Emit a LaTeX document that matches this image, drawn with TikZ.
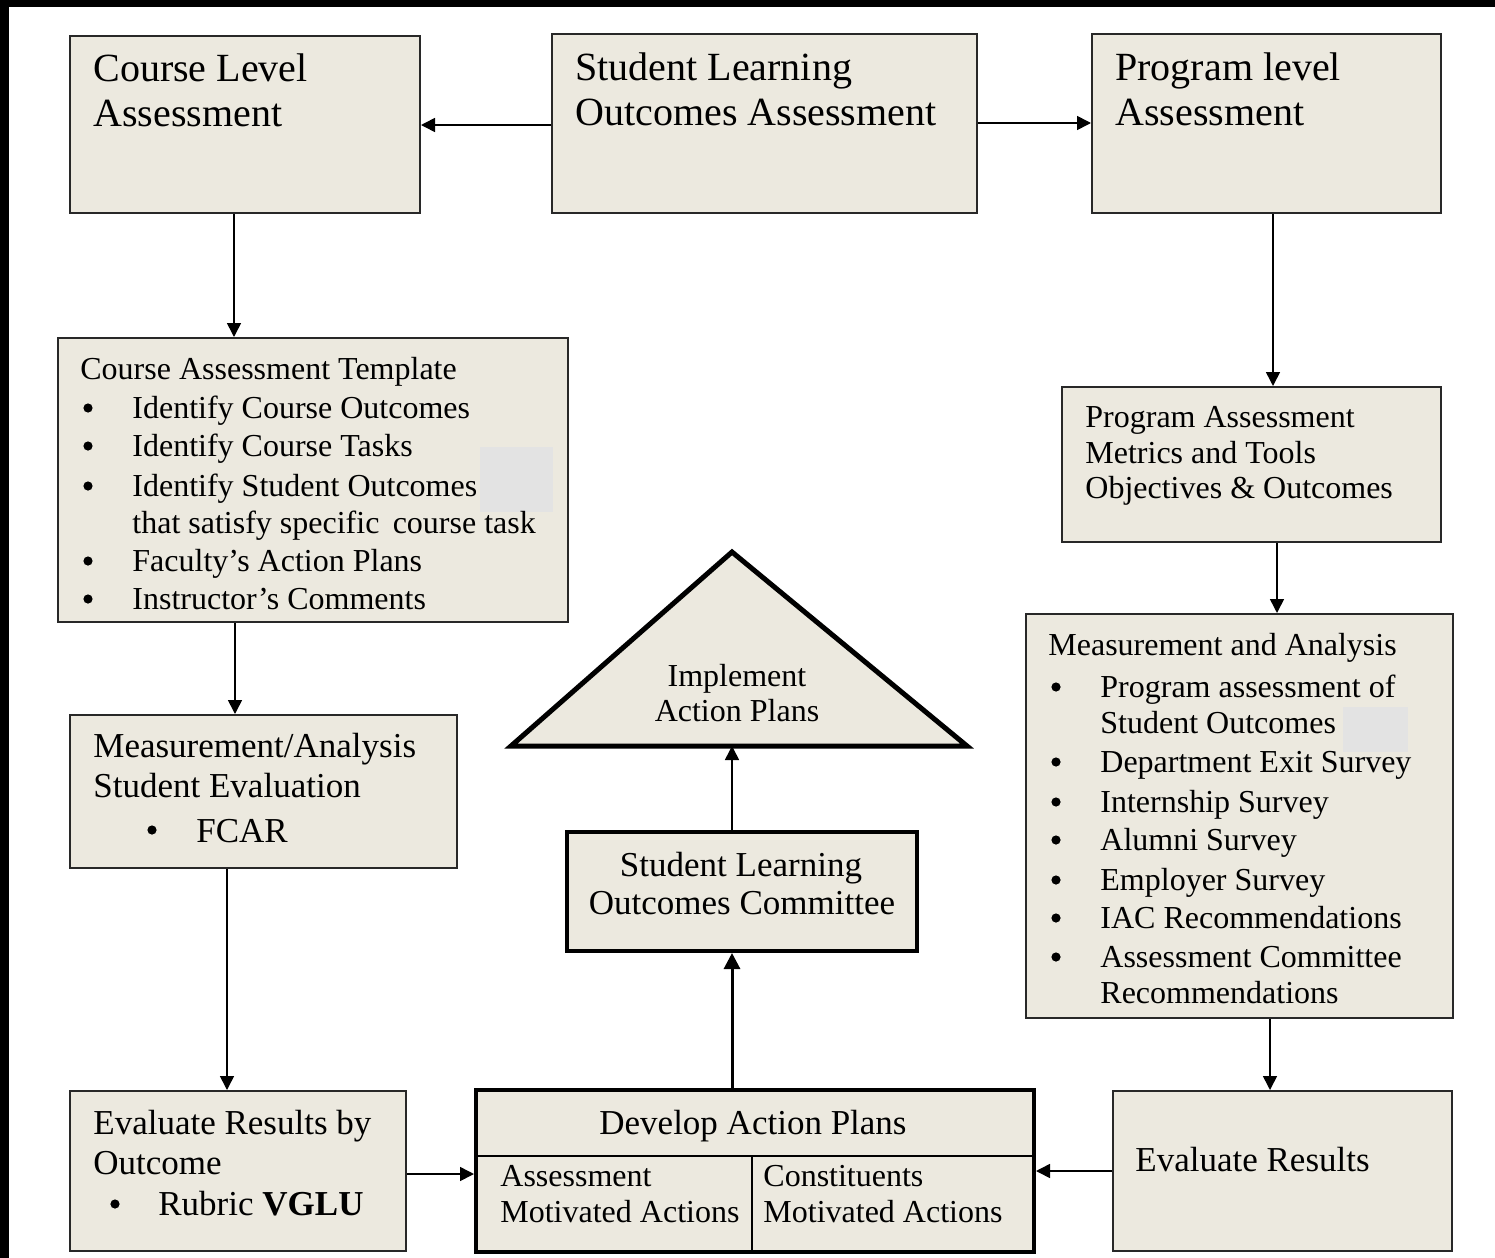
\documentclass[tikz,border=0pt]{standalone}
\usepackage{fontspec}
\setmainfont{Liberation Serif}
\usetikzlibrary{arrows.meta,fit}
\definecolor{boxfill}{RGB}{236,233,223}
\definecolor{patchgray}{RGB}{227,227,227}
\definecolor{edge}{RGB}{40,40,40}
\newcommand\bline[7]{%
  \node[dot] (#5b) at (#1,#3-#7) {};
  \node[txt,#6] (#5) at (#2,#3) {#4};}
\begin{document}
\begin{tikzpicture}[x=0.5pt,y=-0.5pt,
  box/.style={draw=edge, line width=1pt, fill=boxfill, inner sep=0pt},
  thickbox/.style={draw=black, line width=2pt, fill=boxfill, inner sep=0pt},
  arr/.style={-{Triangle[length=7pt,width=7pt]}, line width=0.8pt},
  thickarr/.style={-{Triangle[length=8pt,width=8pt]}, line width=1.5pt},
  txt/.style={inner sep=0pt, anchor=base west},
  ctxt/.style={inner sep=0pt, anchor=base},
  dot/.style={circle, fill=black, inner sep=0pt, minimum size=4.6pt},
  big/.style={font=\fontsize{20}{24}\selectfont},
  mid/.style={font=\fontsize{17.5}{21}\selectfont},
  sm/.style={font=\fontsize{16}{19}\selectfont}]
\useasboundingbox (0,0) rectangle (1495,1258);
\fill[white] (0,0) rectangle (1495,1258);
\fill[black] (0,0) rectangle (1495,7);
\fill[black] (0,0) rectangle (9,1258);

% ---- top row ----
\node[box, fit={(70,36)(420,213)}] (cla) {};
\node[txt,big] (claA) at (93,81) {Course Level};
\node[txt,big] (claB) at (93,126) {Assessment};

\node[box, fit={(552,34)(977,213)}] (slo) {};
\node[txt,big] (sloA) at (575,80) {Student Learning};
\node[txt,big] (sloB) at (575,125) {Outcomes Assessment};

\node[box, fit={(1092,34)(1441,213)}] (pla) {};
\node[txt,big] (plaA) at (1115,80) {Program level};
\node[txt,big] (plaB) at (1115,125) {Assessment};

% ---- course assessment template ----
\node[box, fit={(58,338)(568,622)}] (cat) {};
\fill[patchgray] (480,447) rectangle (553,512);
\node[txt,sm] (catT) at (80,379) {Course Assessment Template};
\bline{88}{132}{418}{Identify Course Outcomes}{catA}{sm}{10}
\bline{88}{132}{456}{Identify Course Tasks}{catB}{sm}{10}
\bline{88}{132}{496}{Identify Student Outcomes}{catC}{sm}{10}
\node[txt,sm] (catC2) at (132,533) {that satisfy specific\, course task};
\bline{88}{132}{571}{Faculty’s Action Plans}{catD}{sm}{10}
\bline{88}{132}{609}{Instructor’s Comments}{catE}{sm}{10}

% ---- measurement / analysis student evaluation ----
\node[box, fit={(70,715)(457,868)}] (mas) {};
\node[txt,mid] (masA) at (93,757) {Measurement/Analysis};
\node[txt,mid] (masB) at (93,797) {Student Evaluation};
\bline{152}{196}{842}{FCAR}{masC}{mid}{12}

% ---- evaluate results by outcome ----
\node[box, fit={(70,1091)(406,1251)}] (ero) {};
\node[txt,mid] (eroA) at (93,1134) {Evaluate Results by};
\node[txt,mid] (eroB) at (93,1174) {Outcome};
\bline{115}{158}{1215}{Rubric \textbf{VGLU}}{eroC}{mid}{11}

% ---- develop action plans ----
\node[thickbox, fit={(476,1090)(1034,1252)}] (dap) {};
\draw[line width=1pt] (dap.west |- 0,1156) -- (dap.east |- 0,1156);
\draw[line width=1pt] (752,1156) -- (dap.south -| 752,0);
\node[ctxt,mid] (dapT) at (753,1134) {Develop Action Plans};
\node[txt,sm] (dapA) at (500,1186) {Assessment};
\node[txt,sm] (dapB) at (500,1222) {Motivated Actions};
\node[txt,sm] (dapC) at (763,1186) {Constituents};
\node[txt,sm] (dapD) at (763,1222) {Motivated Actions};

% ---- SLO committee ----
\node[thickbox, fit={(567,832)(917,951)}] (sloc) {};
\node[ctxt,mid] (slocA) at (741,876) {Student Learning};
\node[ctxt,mid] (slocB) at (742,914) {Outcomes Committee};

% ---- triangle ----
\coordinate (triA) at (732,552);
\coordinate (triL) at (511,746);
\coordinate (triR) at (967,746);
\coordinate (triB) at (732,746);
\draw[line width=2.5pt, fill=boxfill, line join=miter] (triL) -- (triA) -- (triR) -- cycle;
\node[ctxt,sm] (triT1) at (737,686) {Implement};
\node[ctxt,sm] (triT2) at (737,721) {Action Plans};

% ---- program assessment metrics ----
\node[box, fit={(1062,387)(1441,542)}] (pam) {};
\node[txt,sm] (pamA) at (1085,427) {Program Assessment};
\node[txt,sm] (pamB) at (1085,463) {Metrics and Tools};
\node[txt,sm] (pamC) at (1085,498) {Objectives \& Outcomes};

% ---- measurement and analysis ----
\node[box, fit={(1026,614)(1453,1018)}] (ma) {};
\fill[patchgray] (1343,707) rectangle (1408,752);
\node[txt,sm] (maT) at (1048,655) {Measurement and Analysis};
\bline{1056}{1100}{697}{Program assessment of}{maA}{sm}{10}
\node[txt,sm] (maA2) at (1100,733) {Student Outcomes};
\bline{1056}{1100}{772}{Department Exit Survey}{maB}{sm}{10}
\bline{1056}{1100}{812}{Internship Survey}{maC}{sm}{10}
\bline{1056}{1100}{850}{Alumni Survey}{maD}{sm}{10}
\bline{1056}{1100}{890}{Employer Survey}{maE}{sm}{10}
\bline{1056}{1100}{928}{IAC Recommendations}{maF}{sm}{10}
\bline{1056}{1100}{967}{Assessment Committee}{maG}{sm}{10}
\node[txt,sm] (maG2) at (1100,1003) {Recommendations};

% ---- evaluate results ----
\node[box, fit={(1113,1091)(1452,1251)}] (er) {};
\node[txt,mid] (erA) at (1135,1171) {Evaluate Results};

% ---- connectors ----
\draw[arr] (slo.west |- 0,125) -- (cla.east |- 0,125);
\draw[arr] (slo.east |- 0,123) -- (pla.west |- 0,123);
\draw[arr] (cla.south -| 234,0) -- (cat.north -| 234,0);
\draw[arr] (cat.south -| 235,0) -- (mas.north -| 235,0);
\draw[arr] (mas.south -| 227,0) -- (ero.north -| 227,0);
\draw[arr] (ero.east |- 0,1174) -- (dap.west |- 0,1174);
\draw[thickarr] (dap.north -| 732,0) -- (sloc.south -| 732,0);
\draw[arr] (sloc.north -| 732,0) -- (triB);
\draw[arr] (pla.south -| 1273,0) -- (pam.north -| 1273,0);
\draw[arr] (pam.south -| 1277,0) -- (ma.north -| 1277,0);
\draw[arr] (ma.south -| 1270,0) -- (er.north -| 1270,0);
\draw[arr] (er.west |- 0,1171) -- (dap.east |- 0,1171);
\end{tikzpicture}
\end{document}
